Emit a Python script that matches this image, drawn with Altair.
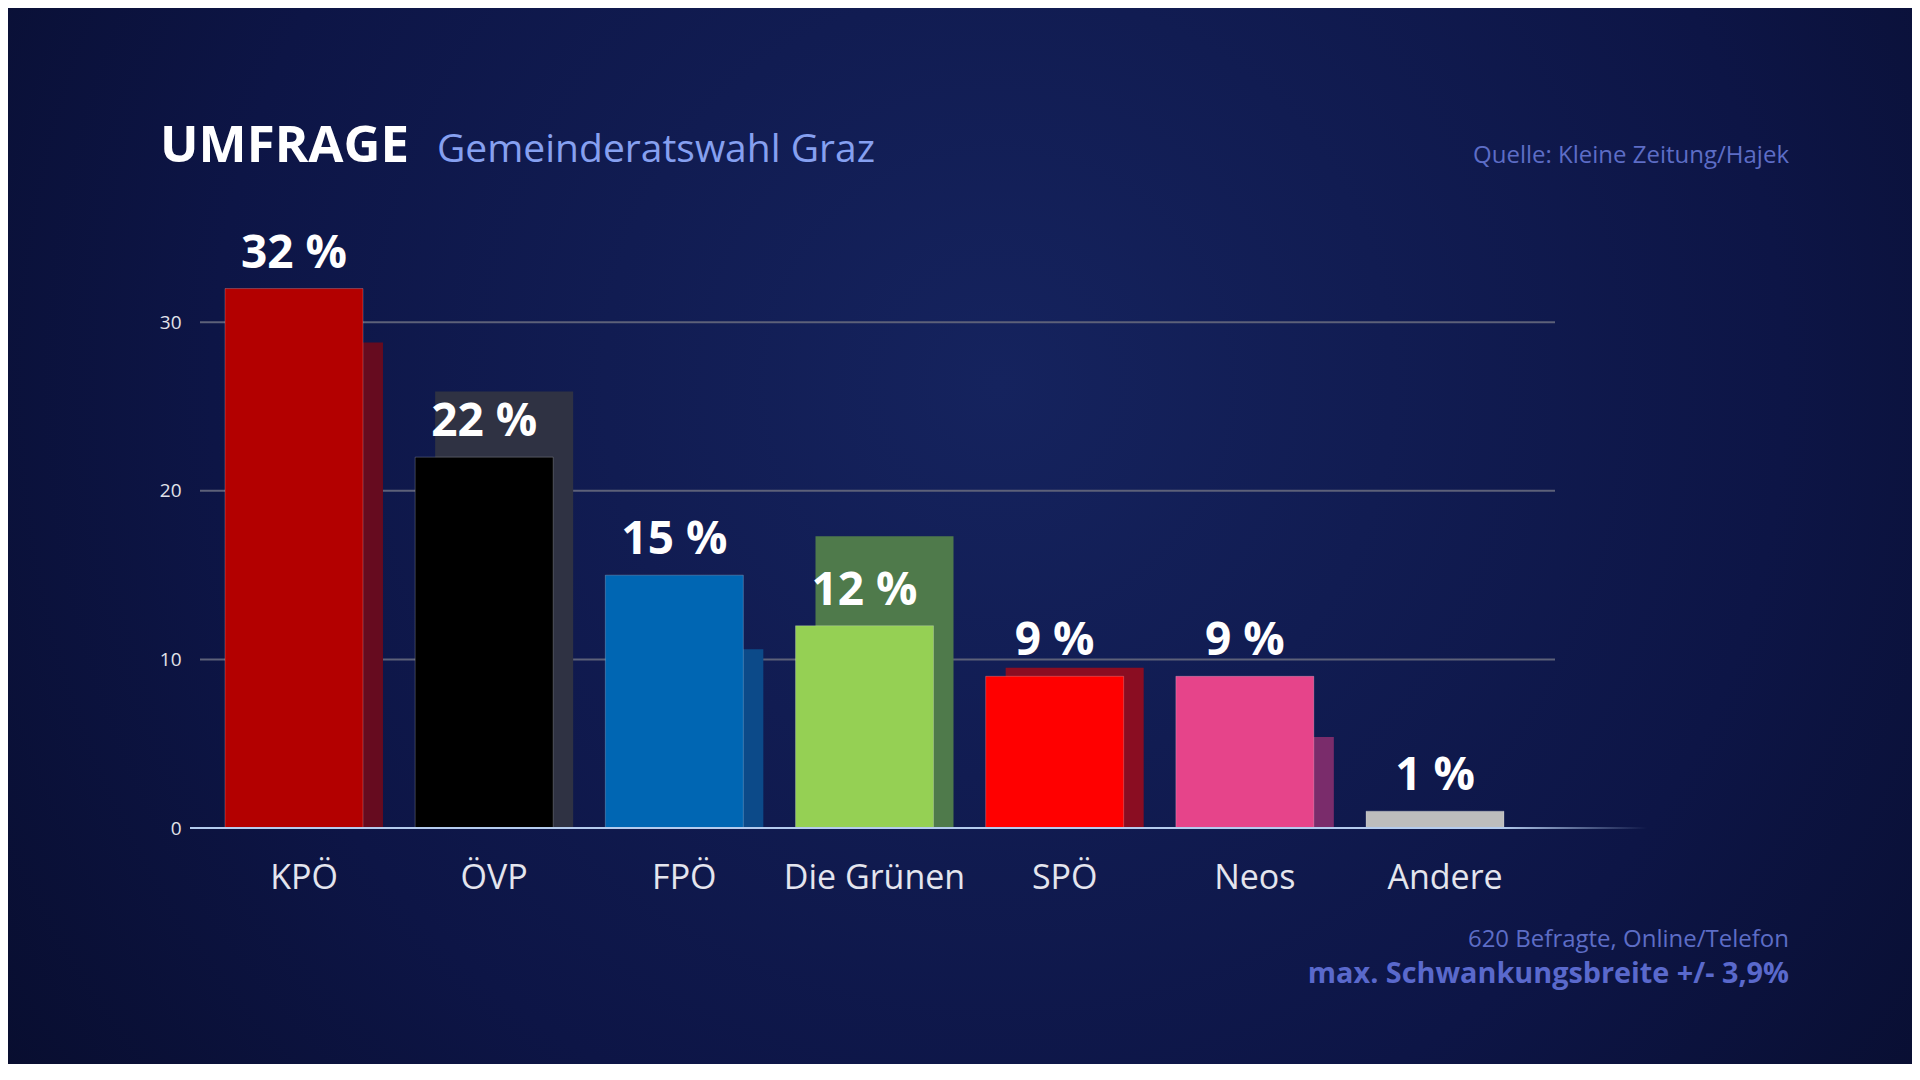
import altair as alt
import pandas as pd

# ---- data ----
parteien = ["KPÖ", "ÖVP", "FPÖ", "Die Grünen", "SPÖ", "Neos", "Andere"]
umfrage = [32, 22, 15, 12, 9, 9, 1]
wahl_2021 = [28.8, 25.9, 10.6, 17.3, 9.5, 5.4, None]
farben = ["#b30000", "#000000", "#0066b3", "#95d054", "#ff0000", "#e6448a", "#bdbdbd"]
farben_2021 = ["#660b1f", "#2f3243", "#0c4a89", "#4f7a4b", "#8a0d22", "#7a2c6b", "#000000"]
gitter = [10, 20, 30]
y_ticks = [0, 10, 20, 30]

df = pd.DataFrame({
    "partei": parteien,
    "umfrage": umfrage,
    "farbe": farben,
    "label": [f"{v} %" for v in umfrage],
})
df_prev = pd.DataFrame({"partei": parteien, "wahl": wahl_2021, "farbe": farben_2021}).dropna()
df_grid = pd.DataFrame({"g": gitter})
one = pd.DataFrame({"a": [0]})

W, H = 1349, 590
GRID_W = 1355
PL, PT = 192, 230
TOTAL_W, TOTAL_H = 1904, 1056
FONT = "Open Sans"

yscale = alt.Scale(domain=[0, 35], nice=False, zero=True)
xscale = alt.Scale(domain=parteien, paddingInner=0, paddingOuter=0.0468)

x_enc = alt.X("partei:N", sort=parteien, scale=xscale,
              axis=alt.Axis(title=None, labelAngle=0, domain=False, ticks=False, tickSize=0,
                            grid=False, labelFont=FONT, labelFontSize=34, labelColor="#e4e5ee",
                            labelPadding=60, labelBaseline="alphabetic", labelLimit=0, zindex=1))
y_axis = alt.Axis(title=None, values=y_ticks, grid=False, domain=False, ticks=False, tickSize=0,
                  labelFont=FONT, labelFontSize=19, labelColor="#e2e3ea", labelPadding=19, zindex=1)

bg = alt.Chart(one).mark_rect(
    fill={"gradient": "radial", "x1": 0.52, "y1": 0.42, "x2": 0.52, "y2": 0.42, "r1": 0, "r2": 0.75,
          "stops": [{"offset": 0, "color": "#15235e"}, {"offset": 0.55, "color": "#0d1546"},
                    {"offset": 1, "color": "#060a24"}]}
).encode(x=alt.value(-PL), x2=alt.value(TOTAL_W - PL), y=alt.value(-PT), y2=alt.value(TOTAL_H - PT))

grid = alt.Chart(df_grid).mark_rule(color="#5d6179", strokeWidth=2).encode(
    y=alt.Y("g:Q", scale=yscale, axis=y_axis), x=alt.value(0), x2=alt.value(GRID_W))

prev = alt.Chart(df_prev).mark_bar(width=138, xOffset=10).encode(
    x=x_enc, y=alt.Y("wahl:Q", scale=yscale, axis=y_axis),
    color=alt.Color("farbe:N", scale=None))

main = alt.Chart(df).mark_bar(width=138, xOffset=-10, stroke="white", strokeOpacity=0.22,
                              strokeWidth=1).encode(
    x=x_enc, y=alt.Y("umfrage:Q", scale=yscale, axis=y_axis),
    color=alt.Color("farbe:N", scale=None))

zero = alt.Chart(one).mark_rect(
    fill={"gradient": "linear", "x1": 0, "y1": 0, "x2": 1, "y2": 0,
          "stops": [{"offset": 0, "color": "#b4cbee"}, {"offset": 0.9, "color": "#b4cbee"},
                    {"offset": 1, "color": "rgba(180,203,238,0)"}]}
).encode(x=alt.value(-10), x2=alt.value(1447), y=alt.datum(0.06, scale=yscale), y2=alt.datum(-0.06))

labels = alt.Chart(df).mark_text(font=FONT, fontWeight="bold", fontSize=46, color="white",
                                 baseline="alphabetic", dy=-21, xOffset=-10).encode(
    x=x_enc, y=alt.Y("umfrage:Q", scale=yscale, axis=y_axis), text="label:N")

def txt(s, x, y, size, color, weight="normal", align="left"):
    return alt.Chart(one).mark_text(text=s, font=FONT, fontSize=size, fontWeight=weight,
                                    color=color, align=align, baseline="alphabetic").encode(
        x=alt.value(x), y=alt.value(y))

t1 = txt("UMFRAGE", -40, -76, 51, "white", "bold")
t2 = txt("Gemeinderatswahl Graz", 237, -76, 39, "#86a0f0")
t3 = txt("Quelle: Kleine Zeitung/Hajek", 1589, -75, 24, "#5d6dc6", align="right")
t4 = txt("620 Befragte, Online/Telefon", 1589, 709, 24, "#5d6dc6", align="right")
t5 = txt("max. Schwankungsbreite +/- 3,9%", 1589, 745, 28.8, "#5a69cc", "bold", align="right")

chart = alt.layer(bg, grid, prev, main, zero, labels, t1, t2, t3, t4, t5).properties(
    width=W, height=H,
    autosize=alt.AutoSizeParams(type="none"),
    padding={"left": PL, "top": PT, "right": TOTAL_W - PL - W, "bottom": TOTAL_H - PT - H},
    background="#080c2a",
).configure_view(stroke=None)

chart.save("out.html", embed_options={"renderer": "svg", "actions": False})
